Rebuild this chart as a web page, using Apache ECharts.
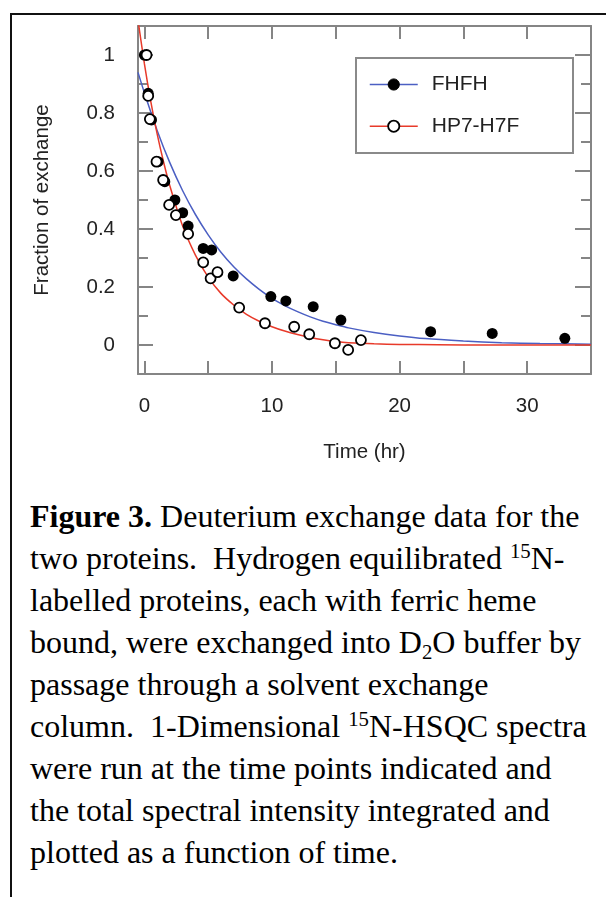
<!DOCTYPE html>
<html>
<head>
<meta charset="utf-8">
<script src="https://cdn.jsdelivr.net/npm/echarts@6/dist/echarts.min.js"></script>
<style>
  html, body { margin: 0; padding: 0; background: #fff; }
  body { width: 606px; height: 897px; position: relative; overflow: hidden; }
  #frame { position: absolute; left: 10px; top: 13px; width: 610px; height: 900px;
           border-top: 2px solid #111; border-left: 2px solid #111; box-sizing: border-box; }
  #chart { position: absolute; left: 0; top: 0; width: 606px; height: 480px; }
  #cap { position: absolute; left: 30px; top: 495px; font-family: 'Liberation Serif', 'Times New Roman', serif;
         font-size: 32px; line-height: 42px; color: #000; }
  #cap div { height: 42px; white-space: pre; }
  .sup { font-size: 0.65em; position: relative; top: -11px; line-height: 0; }
  .sub { font-size: 0.65em; position: relative; top: 6px; line-height: 0; }
</style>
</head>
<body>
<div id="frame"></div>
<div id="chart"></div>
<div id="cap"><div><b>Figure 3.</b> Deuterium exchange data for the</div><div>two proteins.  Hydrogen equilibrated <span class="sup">15</span>N-</div><div>labelled proteins, each with ferric heme</div><div>bound, were exchanged into D<span class="sub">2</span>O buffer by</div><div>passage through a solvent exchange</div><div>column.  1-Dimensional <span class="sup">15</span>N-HSQC spectra</div><div>were run at the time points indicated and</div><div>the total spectral intensity integrated and</div><div>plotted as a function of time.</div></div>
<script>
// ---- data ----
const fhfhTime = [0.0, 0.3, 0.56, 1.08, 1.6, 2.39, 3.0, 3.43, 4.61, 5.27, 6.96, 9.91, 11.09, 13.23, 15.4, 22.43, 27.26, 32.95];
const fhfhFrac = [1.0, 0.868, 0.776, 0.632, 0.563, 0.5, 0.456, 0.41, 0.333, 0.328, 0.238, 0.167, 0.152, 0.132, 0.086, 0.046, 0.040, 0.023];

const hpTime = [0.17, 0.3, 0.43, 0.95, 1.47, 1.94, 2.47, 3.43, 4.61, 5.19, 5.73, 7.43, 9.45, 11.74, 12.92, 14.93, 15.97, 16.97];
const hpFrac = [1.0, 0.859, 0.779, 0.632, 0.569, 0.483, 0.448, 0.383, 0.285, 0.23, 0.251, 0.129, 0.075, 0.063, 0.037, 0.006, -0.017, 0.017];

// fitted curves
const fhfhFitTime = [-0.5, 0, 1, 2, 3, 4, 5, 6, 7, 8, 9, 10, 11, 12, 13, 14, 15, 16, 18, 20, 22, 25, 28, 31, 35];
const fhfhFitFrac = [0.94, 0.87, 0.74, 0.628, 0.532, 0.45, 0.38, 0.32, 0.27, 0.228, 0.192, 0.161, 0.136, 0.115, 0.097, 0.082, 0.07, 0.059, 0.043, 0.031, 0.022, 0.014, 0.008, 0.005, 0.003];

const hpFitTime = [-0.5, 0, 0.5, 1, 1.5, 2, 3, 4, 5, 6, 7, 8, 9, 10, 11, 12, 13, 14, 15, 16, 18, 20, 23, 27, 35];
const hpFitFrac = [1.12, 0.97, 0.84, 0.728, 0.632, 0.548, 0.41, 0.31, 0.234, 0.178, 0.138, 0.106, 0.082, 0.063, 0.048, 0.036, 0.026, 0.018, 0.012, 0.008, 0.004, 0.002, 0.001, 0.0, 0.0];

const xLabelValues = [0, 10, 20, 30];
const xTickValues = [0, 5, 10, 15, 20, 25, 30];
const yLabelValues = [0, 0.2, 0.4, 0.6, 0.8, 1];
const yMinorTickValues = [0.1, 0.3, 0.5, 0.7, 0.9];

const seriesNames = ['FHFH', 'HP7-H7F'];

// ---- chart ----
const zip = (xs, ys) => xs.map((x, i) => [x, ys[i]]);
const AX = '#858585';
const FONT = "'Liberation Sans', Arial, sans-serif";

function xAxisDef(pos, labels) {
  return {
    type: 'value', position: pos, min: -0.5, max: 35,
    axisLine: { show: true, onZero: false, lineStyle: { color: AX, width: 2 } },
    axisTick: { show: true, inside: true, length: 13, customValues: xTickValues, lineStyle: { color: AX, width: 2 } },
    axisLabel: labels ? { show: true, customValues: xLabelValues, margin: 22, color: '#222', fontSize: 20.5, fontFamily: FONT } : { show: false },
    splitLine: { show: false },
    name: labels ? 'Time (hr)' : '',
    nameLocation: 'middle', nameGap: 68,
    nameTextStyle: { color: '#222', fontSize: 20.5, fontFamily: FONT }
  };
}
function yAxisDef(pos, major, labels, len) {
  return {
    type: 'value', position: pos, offset: 0, min: -0.1, max: 1.1,
    axisLine: { show: major, onZero: false, lineStyle: { color: AX, width: 2 } },
    axisTick: { show: true, inside: true, length: len, customValues: major ? yLabelValues : yMinorTickValues, lineStyle: { color: AX, width: 2 } },
    axisLabel: labels ? { show: true, customValues: yLabelValues, margin: 23, color: '#222', fontSize: 20.5, fontFamily: FONT } : { show: false },
    splitLine: { show: false },
    name: labels ? 'Fraction of exchange' : '',
    nameLocation: 'middle', nameGap: 85, nameRotate: 90,
    nameTextStyle: { color: '#222', fontSize: 20.5, fontFamily: FONT }
  };
}

const chart = echarts.init(document.getElementById('chart'), null, { renderer: 'canvas' });
chart.setOption({
  animation: false,
  backgroundColor: 'transparent',
  grid: { left: 138, top: 26, width: 453, height: 348, containLabel: false },
  xAxis: [xAxisDef('bottom', true), xAxisDef('top', false)],
  yAxis: [
    yAxisDef('left', true, true, 15),
    yAxisDef('left', false, false, 10),
    yAxisDef('right', true, false, 16),
    yAxisDef('right', false, false, 10)
  ],
  legend: {
    orient: 'vertical', left: 369, top: 74, padding: 0,
    itemWidth: 48, itemHeight: 14, itemGap: 20.7,
    textStyle: { color: '#222', fontSize: 21, fontFamily: FONT, padding: [0, 0, 0, 9] },
    data: [
      { name: seriesNames[0], itemStyle: { color: '#000', borderColor: '#000', borderWidth: 1, opacity: 1 }, lineStyle: { color: '#4b5fc3', width: 1.5 } },
      { name: seriesNames[1], itemStyle: { color: '#fff', borderColor: '#000', borderWidth: 1.8, opacity: 1 }, lineStyle: { color: '#e83a2a', width: 1.5 } }
    ]
  },
  graphic: [{
    type: 'rect', left: 355, top: 57, z: 50,
    shape: { width: 217, height: 95 },
    style: { fill: 'rgba(0,0,0,0)', stroke: '#8a8a8a', lineWidth: 2 }
  }],
  series: [
    {
      name: seriesNames[0], type: 'line', data: zip(fhfhFitTime, fhfhFitFrac),
      smooth: 0.25, showSymbol: false, symbol: 'circle',
      lineStyle: { color: '#4b5fc3', width: 1.5 }, itemStyle: { color: '#4b5fc3' }, z: 2
    },
    {
      name: seriesNames[1], type: 'line', data: zip(hpFitTime, hpFitFrac),
      smooth: 0.25, showSymbol: false, symbol: 'circle',
      lineStyle: { color: '#e83a2a', width: 1.5 }, itemStyle: { color: '#e83a2a' }, z: 2
    },
    {
      name: 'FHFH data', type: 'scatter', data: zip(fhfhTime, fhfhFrac),
      symbol: 'circle', symbolSize: 11, itemStyle: { color: '#000', opacity: 1 }, z: 3
    },
    {
      name: 'HP7-H7F data', type: 'scatter', data: zip(hpTime, hpFrac),
      symbol: 'circle', symbolSize: 10, itemStyle: { color: '#fff', borderColor: '#000', borderWidth: 1.8, opacity: 1 }, z: 4
    }
  ]
});
</script>
</body>
</html>
